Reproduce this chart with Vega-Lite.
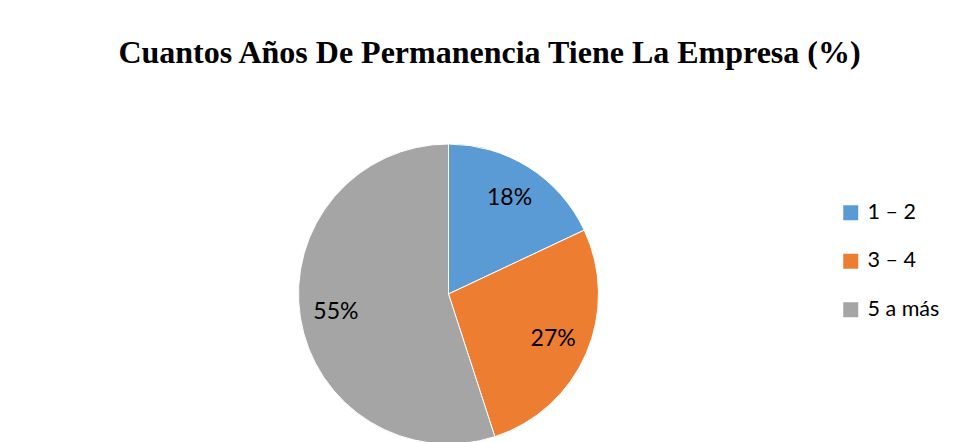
{
  "$schema": "https://vega.github.io/schema/vega-lite/v6.json",
  "autosize": "none",
  "width": 897,
  "height": 388,
  "padding": {"left": 0, "top": 100, "right": 61, "bottom": 0},
  "background": "white",
  "title": {
    "text": "Cuantos Años De Permanencia Tiene La Empresa (%)",
    "font": "Liberation Serif",
    "fontSize": 32,
    "fontWeight": "bold",
    "color": "black",
    "anchor": "middle",
    "dx": 41,
    "offset": 30
  },
  "data": {
    "values": [
      {"categoria": "1 – 2", "valor": 18, "etiqueta": "18%"},
      {"categoria": "3 – 4", "valor": 27, "etiqueta": "27%"},
      {"categoria": "5 a más", "valor": 55, "etiqueta": "55%"}
    ]
  },
  "encoding": {
    "theta": {"field": "valor", "type": "quantitative", "stack": true},
    "order": {"field": "categoria", "type": "ordinal"},
    "color": {
      "field": "categoria",
      "type": "nominal",
      "sort": ["1 – 2", "3 – 4", "5 a más"],
      "scale": {"domain": ["1 – 2", "3 – 4", "5 a más"], "range": ["#5B9BD5", "#ED7D31", "#A5A5A5"]},
      "legend": {
        "title": null,
        "orient": "none",
        "legendX": 840,
        "legendY": 102,
        "symbolType": "square",
        "symbolSize": 225,
        "symbolStrokeWidth": 0,
        "labelFont": "Lato",
        "labelFontSize": 21.5,
        "labelColor": "black",
        "labelOffset": 6,
        "labelLimit": 200,
        "rowPadding": 25.5,
        "padding": 0
      }
    }
  },
  "layer": [
    {
      "mark": {"type": "arc", "radius": 150, "stroke": "white", "strokeWidth": 1}
    },
    {
      "mark": {"type": "text", "radius": 114, "font": "Lato", "fontSize": 23, "color": "black"},
      "encoding": {
        "text": {"field": "etiqueta", "type": "nominal"},
        "color": {"value": "black"}
      }
    }
  ],
  "config": {"view": {"stroke": null}}
}
